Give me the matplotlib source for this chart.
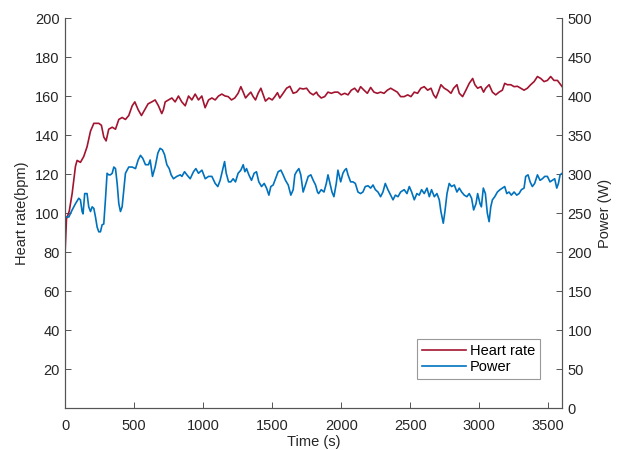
import matplotlib
matplotlib.use("Agg")
import matplotlib.pyplot as plt
from matplotlib.lines import Line2D

plt.rcParams['font.family'] = ['Liberation Sans', 'DejaVu Sans']

hr_t = [0, 10, 30, 51, 75, 87, 111, 135, 159, 184, 208, 244, 263, 280, 297, 316, 341, 365, 389, 413,
        437, 461, 486, 505, 529, 553, 577, 601, 628, 652, 676, 700, 712, 725, 749, 773, 797, 821, 845, 870,
        894, 918, 942, 966, 990, 1014, 1039, 1063, 1087, 1111, 1135, 1159, 1181, 1205, 1229, 1253, 1273, 1290, 1307, 1326,
        1345, 1362, 1379, 1398, 1418, 1435, 1451, 1476, 1500, 1519, 1538, 1555, 1579, 1604, 1628, 1652, 1676, 1700, 1724, 1749,
        1773, 1797, 1821, 1831, 1855, 1880, 1904, 1928, 1952, 1976, 2000, 2025, 2049, 2073, 2097, 2121, 2140, 2165, 2189, 2213,
        2237, 2261, 2285, 2310, 2334, 2358, 2382, 2406, 2430, 2456, 2481, 2505, 2529, 2553, 2577, 2601, 2626, 2650, 2669, 2686,
        2703, 2722, 2746, 2770, 2795, 2814, 2838, 2855, 2879, 2903, 2927, 2952, 2968, 2988, 3012, 3031, 3046, 3071, 3095, 3119,
        3143, 3167, 3184, 3203, 3228, 3252, 3276, 3300, 3324, 3348, 3372, 3397, 3421, 3445, 3469, 3493, 3517, 3541, 3566, 3590, 3600]
hr = [80, 97, 101, 110, 124, 127, 126, 129, 134, 142, 146, 146, 145, 139, 137, 143, 144, 143, 148, 149,
      148, 150, 155, 157, 153, 150, 153, 156, 157, 158, 155, 151, 153, 157, 158, 159, 157, 160, 157, 155,
      160, 158, 161, 158, 160, 154, 158, 159, 158, 160, 161, 160, 159.7, 158, 159, 161.4, 164.8, 162, 159, 160.6,
      162, 159.7, 158, 161.4, 164, 160.6, 157.4, 159, 158, 159.7, 161.7, 159, 161.4, 164, 165, 161.4, 162, 164, 163.6, 164,
      161.7, 160.6, 162, 160.6, 159, 159.7, 162, 161.4, 162, 162, 160.6, 161.4, 160.6, 163, 164, 162, 164.8, 163, 161.4, 164.4,
      162, 161.4, 162, 161.4, 163, 164, 163, 162, 159.7, 159.7, 160.6, 159.7, 162, 161.4, 164, 164.8, 163, 164, 160.6, 159,
      162, 165.8, 164, 163, 161.4, 164, 165.8, 161.4, 159.7, 163, 166.5, 169, 165.8, 164, 164.8, 162, 164, 165.8, 162, 160.6,
      162, 163, 166.5, 165.8, 165.8, 164.8, 165, 164, 163, 164, 165.8, 167.4, 170, 169, 167.4, 168, 170, 168, 168, 165.8, 164.8]

pw_t = [0, 27, 51, 75, 99, 111, 123, 130, 142, 159, 171, 184, 196, 208, 220, 232, 244, 256, 268, 280,
        292, 304, 316, 328, 341, 353, 365, 377, 389, 401, 413, 425, 437, 461, 486, 510, 529, 546, 563, 582,
        604, 616, 633, 652, 672, 688, 705, 720, 737, 754, 768, 785, 809, 834, 846, 865, 882, 906, 930, 947,
        966, 991, 1015, 1039, 1063, 1087, 1106, 1123, 1140, 1155, 1167, 1184, 1200, 1217, 1234, 1253, 1273, 1290, 1302, 1314,
        1331, 1350, 1369, 1386, 1403, 1423, 1442, 1459, 1476, 1490, 1507, 1524, 1543, 1563, 1579, 1596, 1616, 1635, 1652, 1664,
        1676, 1693, 1707, 1724, 1741, 1761, 1780, 1797, 1814, 1828, 1836, 1855, 1875, 1892, 1904, 1916, 1933, 1947, 1964, 1976,
        1996, 2012, 2025, 2037, 2049, 2068, 2085, 2102, 2121, 2140, 2157, 2174, 2194, 2213, 2230, 2247, 2266, 2285, 2302, 2319,
        2338, 2358, 2375, 2392, 2411, 2430, 2456, 2476, 2493, 2510, 2529, 2548, 2565, 2582, 2601, 2621, 2638, 2654, 2674, 2693,
        2710, 2722, 2739, 2751, 2766, 2782, 2799, 2819, 2838, 2855, 2872, 2891, 2910, 2927, 2944, 2959, 2976, 2988, 3005, 3015,
        3029, 3044, 3058, 3071, 3083, 3095, 3112, 3131, 3150, 3167, 3184, 3199, 3215, 3232, 3252, 3271, 3288, 3305, 3324, 3336,
        3353, 3368, 3384, 3401, 3421, 3440, 3457, 3474, 3493, 3512, 3529, 3546, 3561, 3573, 3585, 3600]
pw = [245, 245, 254, 262, 269, 267, 252, 249, 275, 275, 258, 252, 258, 256, 245, 232, 226, 226, 235, 236,
      267, 301, 299, 299, 301, 309, 307, 288, 262, 252, 258, 279, 301, 309, 309, 307, 318, 324, 320, 312,
      312, 318, 297, 309, 327, 333, 331, 325, 312, 307, 299, 294, 297, 299, 297, 303, 299, 294, 303, 307,
      301, 305, 294, 297, 297, 288, 284, 292, 305, 316, 301, 290, 290, 294, 290, 301, 305, 312, 303, 307,
      299, 292, 301, 303, 290, 284, 288, 282, 273, 284, 286, 294, 303, 305, 299, 292, 286, 273, 280, 299,
      303, 307, 299, 277, 286, 297, 299, 292, 286, 277, 275, 280, 277, 288, 299, 290, 277, 271, 288, 305,
      290, 301, 305, 307, 299, 290, 290, 288, 277, 275, 277, 284, 285, 282, 286, 280, 277, 271, 277, 288,
      280, 273, 267, 273, 271, 277, 280, 275, 284, 277, 267, 275, 273, 280, 275, 282, 271, 280, 271, 275,
      267, 252, 237, 252, 275, 288, 284, 286, 277, 282, 277, 273, 271, 275, 269, 254, 262, 275, 262, 258,
      282, 275, 250, 239, 258, 267, 271, 277, 280, 282, 284, 275, 277, 273, 277, 273, 275, 280, 282, 297,
      299, 290, 284, 288, 299, 292, 294, 297, 297, 290, 292, 294, 282, 288, 299, 301]

hr_color = '#A2142F'
pw_color = '#0072BD'
axis_color = '#262626'
fs = 10.5
lw = 1.2

fig = plt.figure(figsize=(6.26, 4.5), dpi=100)
ax = fig.add_axes([0.104, 0.093, 0.794, 0.867])
ax2 = ax.twinx()

ax.plot(hr_t, hr, color=hr_color, lw=lw)
ax2.plot(pw_t, pw, color=pw_color, lw=lw)

ax.set_xlim(0, 3600)
ax.set_ylim(0, 200)
ax2.set_ylim(0, 500)
ax.set_xticks([0, 500, 1000, 1500, 2000, 2500, 3000, 3500])
ax.set_yticks([20, 40, 60, 80, 100, 120, 140, 160, 180, 200])
ax2.set_yticks(range(0, 501, 50))

for a in (ax, ax2):
    a.spines['top'].set_visible(False)
    for s in a.spines.values():
        s.set_color('#555555')
        s.set_linewidth(0.8)
    a.tick_params(direction='in', length=4, width=0.7, colors='#555555', labelcolor=axis_color, labelsize=fs)
ax.tick_params(axis='x', pad=8)
ax.tick_params(axis='y', pad=4)
ax2.tick_params(axis='y', pad=4)

ax.set_xlabel('Time (s)', fontsize=fs, color=axis_color, labelpad=1)
ax.set_ylabel('Heart rate(bpm)', fontsize=fs, color=axis_color, labelpad=4)
ax2.set_ylabel('Power (W)', fontsize=fs, color=axis_color, labelpad=4)

handles = [Line2D([], [], color=hr_color, lw=lw), Line2D([], [], color=pw_color, lw=lw)]
leg = ax2.legend(handles, ['Heart rate', 'Power'], loc='lower right', bbox_to_anchor=(0.956, 0.074),
                 fontsize=fs, frameon=True, fancybox=False, borderpad=0.35, handlelength=3.0,
                 handletextpad=0.3, labelspacing=0.15, borderaxespad=0)
leg.get_frame().set_edgecolor('#808080')
leg.get_frame().set_linewidth(0.8)

fig.savefig('out.png', dpi=100)
